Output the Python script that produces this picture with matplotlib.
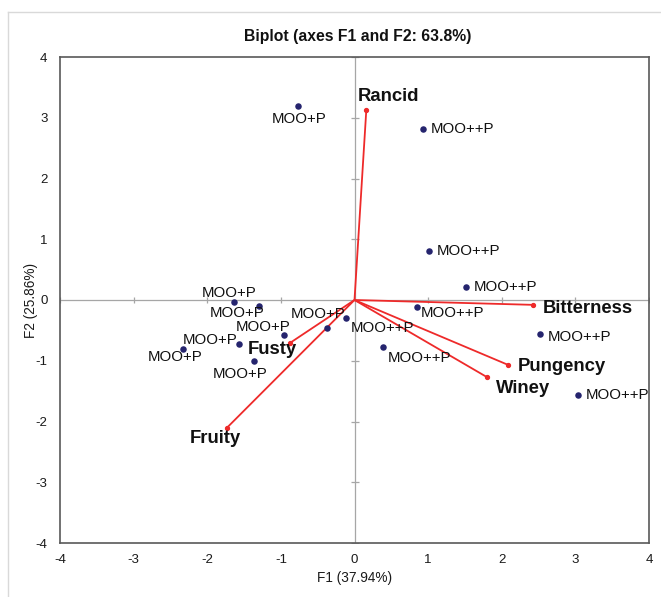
import matplotlib
matplotlib.use("Agg")
import matplotlib.pyplot as plt
from matplotlib.lines import Line2D

plt.rcParams['font.family'] = ['Liberation Sans', 'DejaVu Sans']
plt.rcParams['axes.unicode_minus'] = False

# Observation scores on F1/F2
obs_labels = ["MOO+P", "MOO++P", "MOO++P", "MOO++P", "MOO++P", "MOO++P", "MOO++P",
              "MOO++P", "MOO++P", "MOO+P", "MOO+P", "MOO+P", "MOO+P", "MOO+P",
              "MOO+P", "MOO+P"]
obs_f1 = [-0.77, 0.93, 1.01, 1.51, 0.85, 2.52, 3.03, 0.39, -0.12,
          -1.64, -1.30, -0.96, -0.37, -1.57, -2.33, -1.37]
obs_f2 = [3.19, 2.81, 0.80, 0.21, -0.12, -0.56, -1.56, -0.77, -0.30,
          -0.03, -0.10, -0.58, -0.46, -0.72, -0.81, -1.00]

# Sensory attribute loadings (vectors)
var_labels = ["Rancid", "Bitterness", "Pungency", "Winey", "Fusty", "Fruity"]
var_f1 = [0.16, 2.43, 2.09, 1.80, -0.88, -1.73]
var_f2 = [3.12, -0.08, -1.07, -1.27, -0.71, -2.10]

x_ticks = [-4, -3, -2, -1, 0, 1, 2, 3, 4]
y_ticks = [-4, -3, -2, -1, 0, 1, 2, 3, 4]

# label placement: (dx, dy) in pixels (y downward), horizontal alignment
obs_offsets = [(1, 13, "center"), (8, 0, "left"), (8, 0, "left"), (8, 0, "left"),
               (4, 6, "left"), (8, 3, "left"), (8, 0, "left"), (5, 11, "left"),
               (5, 10, "left"), (-5, -9, "center"), (-22, 7, "center"),
               (-21, -8, "center"), (-9, -14, "center"), (-29, -4, "center"),
               (-8, 8, "center"), (-14, 13, "center")]
var_offsets = [(22, -14, "center"), (9, 4, "left"), (9, 1, "left"), (9, 11, "left"),
               (-17, 6, "center"), (-12, 11, "center")]

W, H, DPI = 661, 597, 100
fig = plt.figure(figsize=(W / DPI, H / DPI), dpi=DPI)
ax = fig.add_axes([60 / W, (H - 543) / H, (649 - 60) / W, (543 - 57) / H])

# outer chart-area border
fig.add_artist(Line2D([8 / W, 8 / W], [0, 1 - 12 / H], transform=fig.transFigure,
                      color="#d9d9d9", lw=1.0))
fig.add_artist(Line2D([8 / W, 1], [1 - 12 / H, 1 - 12 / H], transform=fig.transFigure,
                      color="#d9d9d9", lw=1.0))

ax.set_xlim(-4, 4)
ax.set_ylim(-4, 4)
ax.set_xticks(x_ticks)
ax.set_yticks(y_ticks)
ax.tick_params(length=0, labelsize=9.5, colors="#1a1a1a")
ax.tick_params(axis="x", pad=8)
ax.tick_params(axis="y", pad=9)
for s in ax.spines.values():
    s.set_color("#595959")
    s.set_linewidth(1.2)

# zero lines with small cross ticks
zc = "#a6a6a6"
ax.axhline(0, color=zc, lw=0.9, zorder=1)
ax.axvline(0, color=zc, lw=0.9, zorder=1)
tk = [t for t in x_ticks if t != 0]
ax.plot(tk, [0] * len(tk), ls="none", marker="|", ms=5, mew=0.9, color=zc, zorder=1)
tk = [t for t in y_ticks if t != 0]
ax.plot([0] * len(tk), tk, ls="none", marker="_", ms=6, mew=0.9, color=zc, zorder=1)

# vectors
red = "#ee2a2a"
for x, y in zip(var_f1, var_f2):
    ax.plot([0, x], [0, y], color=red, lw=1.3, zorder=2, solid_capstyle="butt")
ax.plot(var_f1, var_f2, ls="none", marker="o", ms=2.8, color=red, zorder=3)

# observations
ax.scatter(obs_f1, obs_f2, s=22, color="#25246e", zorder=4, linewidths=0)

px2pt = 72 / DPI
for lab, x, y, (dx, dy, ha) in zip(obs_labels, obs_f1, obs_f2, obs_offsets):
    ax.annotate(lab, (x, y), xytext=(dx * px2pt, -dy * px2pt), textcoords="offset points",
                ha=ha, va="center", fontsize=10.8, color="#111111", zorder=5)
for lab, x, y, (dx, dy, ha) in zip(var_labels, var_f1, var_f2, var_offsets):
    ax.annotate(lab, (x, y), xytext=(dx * px2pt, -dy * px2pt), textcoords="offset points",
                ha=ha, va="center", fontsize=13.3, fontweight="bold", color="#111111", zorder=5)

ax.set_xlabel("F1 (37.94%)", fontsize=9.8, color="#1a1a1a")
ax.set_ylabel("F2 (25.86%)", fontsize=9.8, color="#1a1a1a")
ax.xaxis.label.set_va("center")
ax.yaxis.label.set_va("center")
ax.xaxis.set_label_coords(0.5, (543 - 578) / 486)
ax.yaxis.set_label_coords((31 - 60) / 589, 0.5)

fig.text(358 / W, 1 - 37 / H, "Biplot (axes F1 and F2: 63.8%)", ha="center", va="center",
         fontsize=11.3, fontweight="bold", color="#111111")

fig.savefig("out.png", dpi=DPI, facecolor="white")
